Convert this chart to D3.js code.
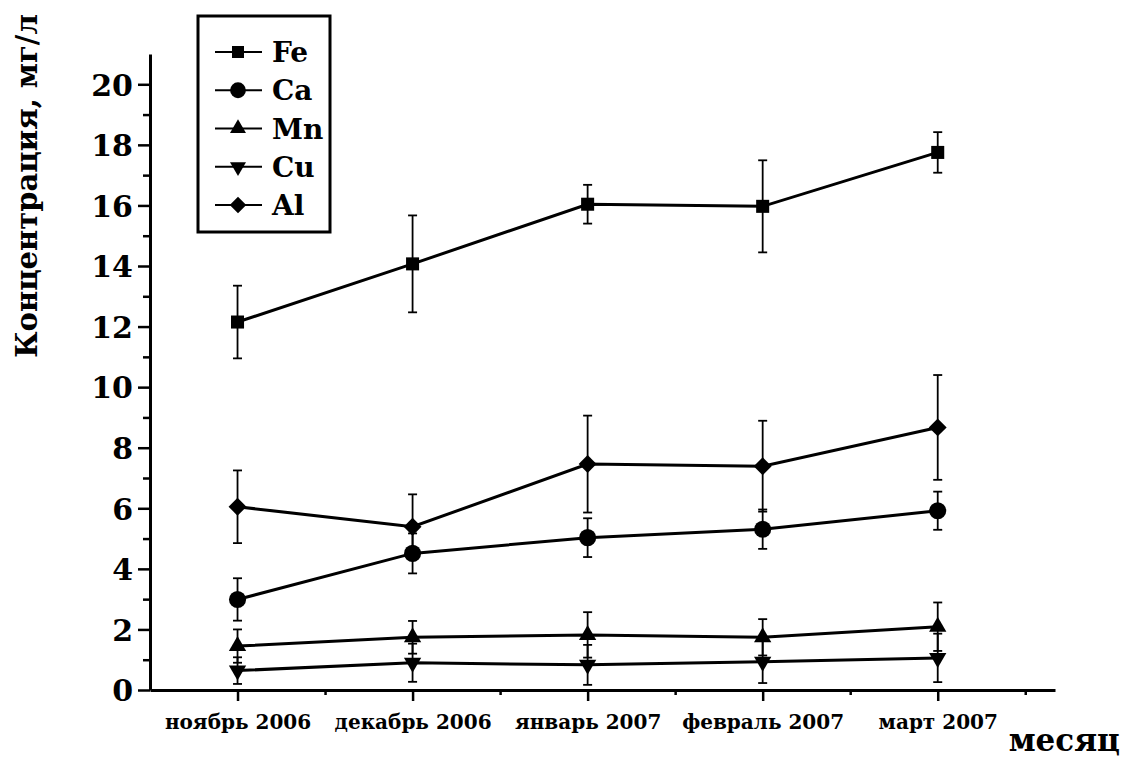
<!DOCTYPE html>
<html lang="ru">
<head>
<meta charset="UTF-8">
<title>Концентрация металлов</title>
<script src="https://cdn.jsdelivr.net/npm/d3@7/dist/d3.min.js"></script>
<style>
  body { margin: 0; background: #fff; }
  svg { display: block; }
  text { font-family: "DejaVu Serif", serif; font-weight: bold; fill: #000; }
</style>
</head>
<body>
<svg width="1125" height="763"></svg>
<script>
// данные
var months = ["ноябрь 2006", "декабрь 2006", "январь 2007", "февраль 2007", "март 2007"];
var seriesNames = ["Fe", "Ca", "Mn", "Cu", "Al"];
var feValues = [12.15, 14.07, 16.04, 15.97, 17.75];
var feErr    = [1.2, 1.6, 0.64, 1.52, 0.67];
var caValues = [2.99, 4.51, 5.03, 5.31, 5.92];
var caErr    = [0.7, 0.66, 0.64, 0.65, 0.63];
var mnValues = [1.45, 1.74, 1.82, 1.74, 2.09];
var mnErr    = [0.55, 0.54, 0.75, 0.6, 0.8];
var cuValues = [0.64, 0.9, 0.83, 0.93, 1.06];
var cuErr    = [0.44, 0.63, 0.66, 0.7, 0.8];
var alValues = [6.05, 5.39, 7.46, 7.39, 8.67];
var alErr    = [1.2, 1.07, 1.6, 1.5, 1.73];
var yTicks = [0, 2, 4, 6, 8, 10, 12, 14, 16, 18, 20];

var series = [
  {name: "Fe", values: feValues, err: feErr, symbol: d3.symbolSquare, size: 170, rotate: 0},
  {name: "Ca", values: caValues, err: caErr, symbol: d3.symbolCircle, size: 230, rotate: 0},
  {name: "Mn", values: mnValues, err: mnErr, symbol: d3.symbolTriangle, size: 130, rotate: 0},
  {name: "Cu", values: cuValues, err: cuErr, symbol: d3.symbolTriangle, size: 130, rotate: 180},
  {name: "Al", values: alValues, err: alErr, symbol: d3.symbolSquare, size: 160, rotate: 45}
];

var svg = d3.select("svg");

var x = d3.scaleLinear().domain([0.5, 5.67]).range([150, 1055]);
var y = d3.scaleLinear().domain([0, 21]).range([690, 54]);

// ось Y
var yAxis = svg.append("g").attr("transform", "translate(150,0)")
  .call(d3.axisLeft(y).tickValues(yTicks).tickSize(12).tickSizeOuter(0).tickPadding(5));
yAxis.selectAll("text").style("font-size", "30px").attr("dy", "0.36em");
var yMinor = svg.append("g").attr("transform", "translate(150,0)")
  .call(d3.axisLeft(y).tickValues(d3.range(1, 21, 2)).tickSize(7).tickFormat(""));
yMinor.select(".domain").remove();

// ось X
var xAxis = svg.append("g").attr("transform", "translate(0,690)")
  .call(d3.axisBottom(x).tickValues([1, 2, 3, 4, 5]).tickSize(11).tickSizeOuter(0).tickPadding(14)
    .tickFormat(function(d) { return months[d - 1]; }));
xAxis.selectAll("text").style("font-size", "20px");
var xMinor = svg.append("g").attr("transform", "translate(0,690)")
  .call(d3.axisBottom(x).tickValues([1.5, 2.5, 3.5, 4.5, 5.5]).tickSize(5).tickFormat(""));
xMinor.select(".domain").remove();

svg.selectAll(".domain").attr("stroke-width", 3);
svg.selectAll(".tick line").attr("stroke-width", 2.5);

// подписи осей
svg.append("text")
  .attr("transform", "translate(37,186) rotate(-90)")
  .attr("text-anchor", "middle")
  .style("font-size", "29px")
  .text("Концентрация, мг/л");
svg.append("text")
  .attr("x", 1120).attr("y", 751)
  .attr("text-anchor", "end")
  .style("font-size", "31px")
  .text("месяц");

var line = d3.line()
  .x(function(d, i) { return x(i + 1); })
  .y(function(d) { return y(d); });

series.forEach(function(s) {
  var g = svg.append("g");
  // планки погрешностей
  s.values.forEach(function(v, i) {
    var cx = x(i + 1);
    var lo = y(v - s.err[i]), hi = y(v + s.err[i]);
    g.append("line").attr("x1", cx).attr("x2", cx).attr("y1", lo).attr("y2", hi)
      .attr("stroke", "#000").attr("stroke-width", 1.8);
    [lo, hi].forEach(function(yy) {
      g.append("line").attr("x1", cx - 4.5).attr("x2", cx + 4.5).attr("y1", yy).attr("y2", yy)
        .attr("stroke", "#000").attr("stroke-width", 1.8);
    });
  });
  g.append("path").datum(s.values)
    .attr("d", line)
    .attr("fill", "none").attr("stroke", "#000").attr("stroke-width", 3);
  g.selectAll(".mark").data(s.values).enter().append("path")
    .attr("class", "mark")
    .attr("d", d3.symbol().type(s.symbol).size(s.size))
    .attr("transform", function(d, i) {
      return "translate(" + x(i + 1) + "," + y(d) + ") rotate(" + s.rotate + ")";
    })
    .attr("fill", "#000");
});

// легенда
var legend = svg.append("g");
legend.append("rect").attr("x", 198).attr("y", 16).attr("width", 132).attr("height", 216)
  .attr("fill", "#fff").attr("stroke", "#000").attr("stroke-width", 3);
var legendY = d3.scaleLinear().domain([0, 4]).range([52, 205]);
series.forEach(function(s, i) {
  var ly = legendY(i);
  legend.append("line").attr("x1", 215).attr("x2", 262).attr("y1", ly).attr("y2", ly)
    .attr("stroke", "#000").attr("stroke-width", 2);
  legend.append("path")
    .attr("d", d3.symbol().type(s.symbol).size(s.size * 0.85))
    .attr("transform", "translate(238," + ly + ") rotate(" + s.rotate + ")")
    .attr("fill", "#000");
  legend.append("text").attr("x", 272).attr("y", ly).attr("dy", "0.36em")
    .style("font-size", "28px")
    .text(s.name);
});
</script>
</body>
</html>
